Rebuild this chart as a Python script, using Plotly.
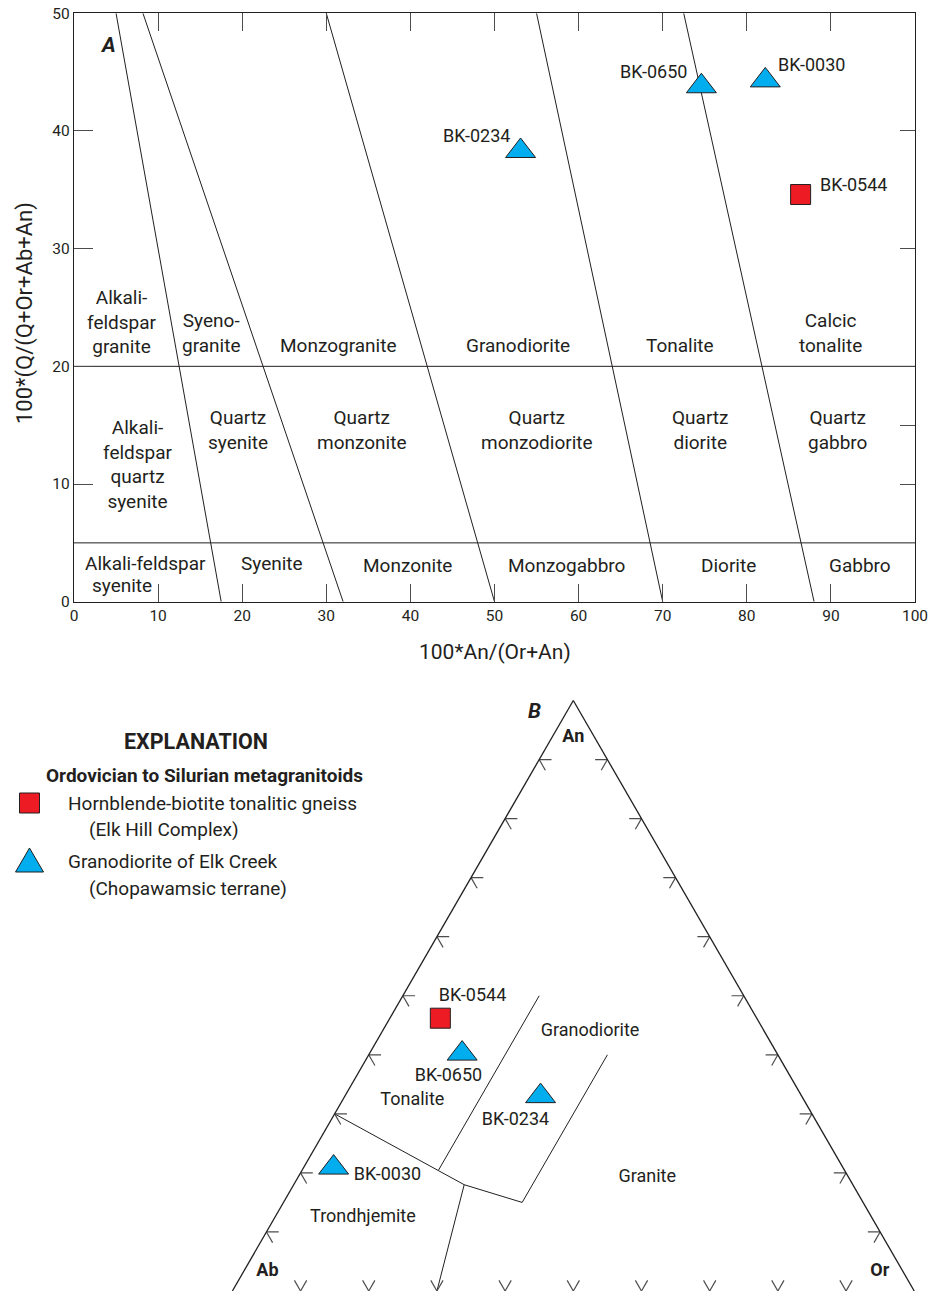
import plotly.graph_objects as go

W, H = 929, 1291

# ---------------------------------------------------------------- samples
sample_ids = ["BK-0234", "BK-0650", "BK-0030", "BK-0544"]
sample_group = ["elk_creek", "elk_creek", "elk_creek", "elk_hill"]

# Panel A: modal ratios
an_over_or_an = [53.1, 74.6, 82.2, 86.4]   # 100*An/(Or+An)
q_over_total = [38.3, 43.8, 44.3, 34.6]    # 100*Q/(Q+Or+Ab+An)

# Panel B: normative feldspar proportions (percent)
fsp_an = [33.0, 40.2, 20.9, 46.2]
fsp_ab = [38.3, 46.2, 74.7, 46.4]
fsp_or = [28.7, 13.6, 4.4, 7.4]

# ------------------------------------------------- Panel A field boundaries
# oblique boundaries: An/(Or+An) where each one meets Q = 50 and Q = 0
oblique_at_q50 = [5, 8.2, 30, 55, 72.5]
oblique_at_q0 = [17.5, 32, 50, 70, 88]
q_boundaries = [20, 5]

field_names_a = [
    "Alkali-<br>feldspar<br>granite", "Syeno-<br>granite", "Monzogranite",
    "Granodiorite", "Tonalite", "Calcic<br>tonalite",
    "Alkali-<br>feldspar<br>quartz<br>syenite", "Quartz<br>syenite",
    "Quartz<br>monzonite", "Quartz<br>monzodiorite", "Quartz<br>diorite",
    "Quartz<br>gabbro",
    "Alkali-feldspar", "syenite", "Syenite", "Monzonite", "Monzogabbro",
    "Diorite", "Gabbro",
]
field_x_a = [5.7, 16.3, 31.4, 52.8, 72.1, 90.0,
             7.6, 19.5, 34.2, 55.0, 74.4, 90.8,
             8.5, 5.7, 23.5, 39.6, 58.6, 77.8, 93.5]
field_y_a = [23.8, 22.8, 21.75, 21.75, 21.75, 22.8,
             11.7, 14.6, 14.6, 14.6, 14.6, 14.6,
             3.25, 1.4, 3.25, 3.1, 3.1, 3.1, 3.1]

# ------------------------------------- Panel B feldspar-triangle boundaries
# vertices given as (An, Ab, Or)
trondhjemite_top = [(30, 70, 0), (20.4, 59.6, 20), (18, 57, 25), (15, 50, 35), (40, 25, 35)]
tonalite_granodiorite = [(20.4, 59.6, 20), (50, 30, 20)]
trondhjemite_granite = [(18, 57, 25), (0, 70, 30)]

tern_ticks = [10, 20, 30, 40, 50, 60, 70, 80, 90]

field_names_b = ["Tonalite", "Trondhjemite", "Granodiorite", "Granite"]
field_pos_b = [(32.2, 57.5, 10.3), (12.5, 74.6, 12.9), (43.9, 25.6, 30.5), (19.3, 29.5, 51.2)]
apex_names = ["<b>An</b>", "<b>Ab</b>", "<b>Or</b>"]
apex_pos = [(93.8, 3.1, 3.1), (3.3, 93.2, 3.5), (3.3, 3.4, 93.3)]
sample_label_pos_b = [(28.95, 44.0, 27.05), (36.3, 50.15, 13.55), (19.5, 67.5, 13.0), (49.95, 39.8, 10.25)]

# ----------------------------------------------------------------- styling
INK = "#231f20"
TICK_INK = "#4d4d4f"
BLUE = "#00aeef"
RED = "#ed1c24"
FONT = "Roboto, Liberation Sans, sans-serif"
GROUP_STYLE = {
    "elk_creek": dict(symbol="triangle-up", size=26, color=BLUE),
    "elk_hill": dict(symbol="square", size=20, color=RED),
}


def px_x(px):
    return px / W


def px_y(py):
    return 1 - py / H


def note(px, py, text, size, xanchor="center", **kw):
    fig.add_annotation(x=px_x(px), y=px_y(py), xref="paper", yref="paper",
                       text=text, showarrow=False, xanchor=xanchor,
                       yanchor="middle",
                       font=dict(family=FONT, size=size, color=INK), **kw)


fig = go.Figure()

# ---------------------------------------------------------------- Panel A
seg_x, seg_y = [], []
for top, bottom in zip(oblique_at_q50, oblique_at_q0):
    seg_x += [top, bottom, None]
    seg_y += [50, 0, None]
for q in q_boundaries:
    seg_x += [0, 100, None]
    seg_y += [q, q, None]
fig.add_trace(go.Scatter(x=seg_x, y=seg_y, mode="lines",
                         line=dict(color=INK, width=1), hoverinfo="skip",
                         showlegend=False, cliponaxis=False))

for grp in ["elk_creek", "elk_hill"]:
    idx = [i for i, g in enumerate(sample_group) if g == grp]
    st = GROUP_STYLE[grp]
    fig.add_trace(go.Scatter(
        x=[an_over_or_an[i] for i in idx], y=[q_over_total[i] for i in idx],
        mode="markers", showlegend=False, cliponaxis=False,
        text=[sample_ids[i] for i in idx],
        marker=dict(symbol=st["symbol"], size=st["size"], color=st["color"],
                    line=dict(color=INK, width=1)),
    ))

# sample labels beside the points
label_anchor_a = {"BK-0234": ("right", -9, 15), "BK-0650": ("right", -12, 15),
                  "BK-0030": ("left", 11, 16), "BK-0544": ("left", 17, 10)}
for sid, xv, yv in zip(sample_ids, an_over_or_an, q_over_total):
    anc, dx, dy = label_anchor_a[sid]
    fig.add_annotation(x=xv, y=yv, xref="x", yref="y", text=sid, showarrow=False,
                       xanchor=anc, yanchor="middle", xshift=dx, yshift=dy,
                       font=dict(family=FONT, size=18, color=INK))

for name, xv, yv in zip(field_names_a, field_x_a, field_y_a):
    fig.add_annotation(x=xv, y=yv, xref="x", yref="y", text=name, showarrow=False,
                       xanchor="center", yanchor="middle",
                       font=dict(family=FONT, size=19, color=INK))

note(108, 45, "<b><i>A</i></b>", 21)
note(495, 652, "100*An/(Or+An)", 21)
note(25, 313, "100*(Q/(Q+Or+Ab+An)", 22, textangle=-90)

axis_common = dict(showgrid=False, zeroline=False, showline=True, linecolor=INK,
                   linewidth=1.3, ticks="inside", tickcolor=TICK_INK, tickwidth=1.3,
                   automargin=False)
fig.update_layout(
    xaxis=dict(domain=[px_x(74), px_x(915)], range=[0, 100], anchor="y",
               tickvals=list(range(0, 101, 10)), ticklen=18,
               tickfont=dict(family=FONT, size=15.5, color=INK),
               **axis_common),
    yaxis=dict(domain=[px_y(601.7), px_y(13.3)], range=[0, 50], anchor="x",
               tickvals=list(range(0, 51, 10)), ticklen=19,
               tickfont=dict(family=FONT, size=15.5, color=INK),
               **axis_common),
    xaxis2=dict(overlaying="x", side="top", anchor="y", range=[0, 100],
                tickvals=list(range(10, 100, 10)), ticklen=18,
                showticklabels=False, **axis_common),
    yaxis2=dict(overlaying="y", side="right", anchor="x", range=[0, 50],
                tickvals=[10, 15, 30, 40], ticklen=15,
                showticklabels=False, **axis_common),
)
# empty trace so the mirrored axes get drawn
fig.add_trace(go.Scatter(x=[None], y=[None], xaxis="x2", yaxis="y2",
                         showlegend=False, hoverinfo="skip"))

# ---------------------------------------------------------------- Panel B
def tern_path(*paths):
    a, b, c = [], [], []
    for path in paths:
        for an, ab, orr in path:
            a.append(an)
            b.append(ab)
            c.append(orr)
        a.append(None)
        b.append(None)
        c.append(None)
    return a, b, c


ta, tb, tc = tern_path(trondhjemite_top, tonalite_granodiorite, trondhjemite_granite)
fig.add_trace(go.Scatterternary(a=ta, b=tb, c=tc, mode="lines",
                                line=dict(color=INK, width=1),
                                hoverinfo="skip", showlegend=False))

# double-armed tick marks along the three edges
ARM = 1.8
arms = []
for t in tern_ticks:
    # Ab-An edge
    arms.append([(t, 100 - t, 0), (t, 100 - t - ARM, ARM)])
    arms.append([(t, 100 - t, 0), (t - ARM, 100 - t, ARM)])
    # An-Or edge
    arms.append([(t, 0, 100 - t), (t, ARM, 100 - t - ARM)])
    arms.append([(t, 0, 100 - t), (t - ARM, ARM, 100 - t)])
    # Ab-Or edge
    arms.append([(0, 100 - t, t), (ARM, 100 - t, t - ARM)])
    arms.append([(0, 100 - t, t), (ARM, 100 - t - ARM, t)])
ka, kb, kc = tern_path(*arms)
fig.add_trace(go.Scatterternary(a=ka, b=kb, c=kc, mode="lines",
                                line=dict(color=TICK_INK, width=1.2),
                                hoverinfo="skip", showlegend=False))

for grp in ["elk_creek", "elk_hill"]:
    idx = [i for i, g in enumerate(sample_group) if g == grp]
    st = GROUP_STYLE[grp]
    fig.add_trace(go.Scatterternary(
        a=[fsp_an[i] for i in idx], b=[fsp_ab[i] for i in idx],
        c=[fsp_or[i] for i in idx], mode="markers", showlegend=False,
        text=[sample_ids[i] for i in idx],
        marker=dict(symbol=st["symbol"], size=st["size"], color=st["color"],
                    line=dict(color=INK, width=1)),
    ))

text_items = (list(zip(field_names_b, field_pos_b)) + list(zip(apex_names, apex_pos))
              + list(zip(sample_ids, sample_label_pos_b)))
fig.add_trace(go.Scatterternary(
    a=[p[0] for _, p in text_items], b=[p[1] for _, p in text_items],
    c=[p[2] for _, p in text_items], text=[n for n, _ in text_items],
    mode="text", textposition="middle center", hoverinfo="skip", showlegend=False,
    textfont=dict(family=FONT, size=18, color=INK)))

tern_axis = dict(showgrid=False, showticklabels=False, ticks="", linecolor=INK,
                 linewidth=1.3, title=dict(text=""))
tri_h = 590.5
tri_w = tri_h * 2 / 3 ** 0.5
apex_x = 573.3
fig.update_layout(ternary=dict(
    sum=100, bgcolor="white",
    domain=dict(x=[px_x(apex_x - tri_w / 2), px_x(apex_x + tri_w / 2)],
                y=[0, tri_h / H]),
    aaxis=dict(showline=True, **tern_axis),
    baxis=dict(showline=False, **tern_axis),
    caxis=dict(showline=True, **tern_axis),
))

note(534, 711, "<b><i>B</i></b>", 21)

# ----------------------------------------------------------- explanation
note(196, 741, "<b>EXPLANATION</b>", 21.5)
note(44, 775, "<b>Ordovician to Silurian metagranitoids</b>", 19, xanchor="left")
key_rows = [
    ("elk_hill", 803, "Hornblende-biotite tonalitic gneiss", "(Elk Hill Complex)"),
    ("elk_creek", 862, "Granodiorite of Elk Creek", "(Chopawamsic terrane)"),
]
for grp, yc, line1, line2 in key_rows:
    note(66, yc, line1, 19, xanchor="left")
    note(87, yc + 26, line2, 19, xanchor="left")
    st = GROUP_STYLE[grp]
    if st["symbol"] == "square":
        path, ky = "M-10,-10 L10,-10 L10,10 L-10,10 Z", yc
    else:
        path, ky = "M0,15 L14,-9 L-14,-9 Z", yc + 1
    fig.add_shape(type="path", xref="paper", yref="paper", xsizemode="pixel",
                  ysizemode="pixel", xanchor=px_x(29.5), yanchor=px_y(ky),
                  path=path, fillcolor=st["color"], line=dict(color=INK, width=1))

fig.update_layout(width=W, height=H, margin=dict(l=0, r=0, t=0, b=0),
                  paper_bgcolor="white", plot_bgcolor="white",
                  font=dict(family=FONT, color=INK), showlegend=False)

fig.write_html("out.html")
